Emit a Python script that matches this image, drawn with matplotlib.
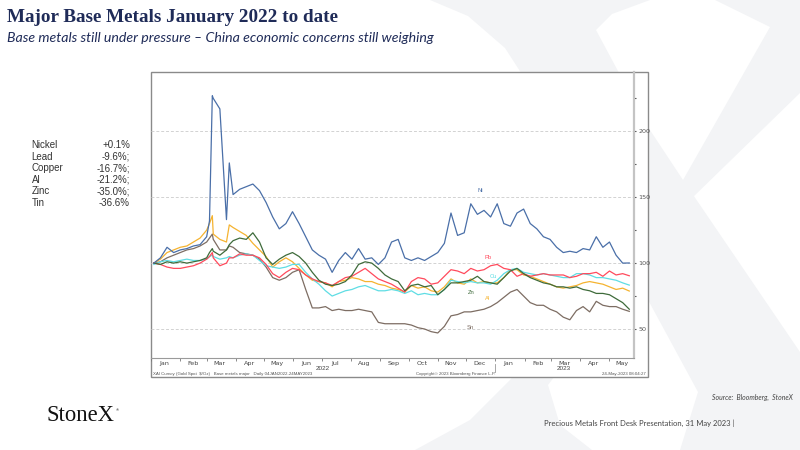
import matplotlib
matplotlib.use("Agg")
import matplotlib.pyplot as plt
import matplotlib.dates as mdates
from matplotlib.patches import Polygon, Rectangle
import pandas as pd

# weekly (Tuesday) closes, rebased Jan 2022 = 100, plus a few extra March 2022 days
weekly = pd.date_range("2022-01-04", "2023-05-23", freq="7D")
extra = pd.to_datetime(["2022-03-04", "2022-03-07", "2022-03-25"])
dates = weekly.append(extra).sort_values()

nickel = [100, 104, 112, 108, 110, 111, 113, 114,
          120, 132, 227, 225, 217, 133, 176, 152,
          156, 158, 160, 155, 146, 135, 126, 130, 139, 130,
          120, 110, 106, 103, 93, 102, 108, 103, 111, 103,
          104, 99, 104, 116, 118, 104, 102, 104, 102, 105,
          108, 115, 138, 121, 123, 145, 137, 140, 135, 145,
          130, 128, 138, 141, 130, 126, 120, 118, 112, 108,
          109, 108, 111, 110, 120, 112, 116, 106, 100, 100.1]
lead = [100, 99, 97, 96, 96, 97, 98, 100,
        103, 105, 108, 104, 98, 100, 104, 104,
        107, 106, 106, 104, 99, 92, 89, 93, 96, 95,
        91, 88, 86, 85, 83, 86, 89, 90, 93, 96,
        92, 88, 86, 84, 81, 78, 86, 89, 88, 84,
        85, 90, 95, 94, 92, 96, 94, 95, 98, 99,
        96, 95, 90, 92, 90, 91, 92, 91, 91, 91,
        89, 90, 92, 92, 93, 90, 94, 91, 92, 90.4]
copper = [99, 101, 102, 101, 102, 103, 102, 102,
          103, 105, 106, 105, 103, 104, 105, 104,
          106, 107, 106, 102, 98, 97, 96, 97, 99, 99,
          93, 88, 84, 79, 75, 77, 79, 80, 82, 83,
          81, 79, 79, 80, 79, 77, 79, 76, 77, 76,
          76, 80, 87, 86, 85, 86, 85, 85, 84, 87,
          92, 95, 96, 93, 92, 91, 92, 91, 90, 89,
          89, 92, 92, 91, 89, 89, 88, 87, 85, 83.3]
alu = [100, 103, 108, 110, 112, 113, 116, 119,
       125, 130, 136, 122, 118, 116, 129, 127,
       124, 121, 115, 110, 105, 97, 101, 104, 101, 96,
       91, 87, 86, 85, 82, 86, 87, 89, 88, 86,
       86, 84, 83, 81, 80, 78, 83, 81, 82, 79,
       78, 82, 88, 85, 84, 88, 85, 86, 85, 85,
       89, 95, 95, 91, 90, 88, 86, 84, 82, 81,
       82, 83, 85, 86, 85, 84, 82, 80, 81, 78.8]
zinc = [100, 99, 101, 100, 101, 100, 101, 102,
        104, 108, 111, 109, 106, 110, 114, 117,
        119, 118, 123, 116, 104, 99, 103, 106, 108, 105,
        100, 93, 87, 84, 83, 84, 86, 91, 99, 101,
        100, 96, 91, 88, 86, 79, 83, 84, 82, 83,
        76, 80, 85, 85, 86, 87, 90, 86, 85, 84,
        89, 94, 96, 92, 89, 87, 85, 84, 82, 82,
        81, 82, 80, 79, 77, 77, 76, 73, 70, 65]
tin = [100, 101, 104, 106, 108, 110, 111, 113,
       116, 119, 122, 118, 110, 110, 113, 112,
       108, 107, 106, 103, 97, 89, 87, 89, 93, 95,
       80, 66, 66, 67, 64, 65, 64, 64, 65, 64,
       63, 55, 54, 54, 54, 54, 53, 51, 50, 48,
       47, 52, 60, 61, 63, 63, 64, 65, 67, 70,
       74, 78, 80, 75, 70, 68, 68, 65, 63, 59,
       57, 64, 67, 63, 71, 68, 67, 67, 65, 63.4]

metal_names = ["Nickel", "Lead", "Copper", "Al", "Zinc", "Tin"]
metal_changes = ["+0.1%", "-9.6%;", "-16.7%;", "-21.2%;", "-35.0%;", "-36.6%"]

series = [
    ("Ni", nickel, "#4a6fa8", "2022-12-16", 155),
    ("Pb", lead, "#ff4a5c", "2022-12-24", 104.5),
    ("Cu", copper, "#5fdde4", "2022-12-30", 90),
    ("Al", alu, "#f5b330", "2022-12-24", 73.5),
    ("Zn", zinc, "#3f6b3b", "2022-12-07", 78),
    ("Sn", tin, "#7d6d63", "2022-12-05", 51.5),
]
draw_order = ["Sn", "Al", "Cu", "Pb", "Zn", "Ni"]

NAVY = "#1f2b58"
W, H = 800, 450

fig = plt.figure(figsize=(8, 4.5), dpi=100)
renderer = fig.canvas.get_renderer()


def fit_width(t, target):
    w = t.get_window_extent(renderer).width
    t.set_fontsize(t.get_fontsize() * target / w)


# page layer in pixel coordinates
bg = fig.add_axes([0, 0, 1, 1])
bg.set_xlim(0, W)
bg.set_ylim(H, 0)
bg.axis("off")

# faint StoneX "X" watermark
wm = "#f3f4f6"
bg.add_patch(Polygon([(430, 0), (650, 0), (612, 14), (596, 30), (648, 127), (683, 180),
                      (800, 352), (860, 450), (680, 450), (698, 392), (545, 110),
                      (505, 48), (468, 16)], closed=True, fc=wm, ec="none", zorder=0))
bg.add_patch(Polygon([(715, 0), (830, 0), (810, 40), (800, 93), (690, 200), (548, 385),
                      (560, 425), (592, 450), (415, 450), (470, 420), (510, 380),
                      (683, 180), (770, 27)], closed=True, fc=wm, ec="none", zorder=0))

# chart frame
bg.add_patch(Rectangle((151, 72), 497, 305, fc="white", ec="#8a8a8a", lw=1.0, zorder=1))

t = bg.text(7, 22.5, "Major Base Metals January 2022 to date", family="Liberation Serif",
            weight="bold", color=NAVY, fontsize=12.5, va="baseline", ha="left")
fit_width(t, 331)
t = bg.text(7, 41.5, "Base metals still under pressure \u2013 China economic concerns still weighing",
            family=["Lato", "DejaVu Sans"], style="italic", color=NAVY, fontsize=9,
            va="baseline", ha="left")
fit_width(t, 428)

for i, (name, chg) in enumerate(zip(metal_names, metal_changes)):
    y = 145 + 11.6 * i
    bg.text(31.5, y, name, family="Liberation Sans", fontsize=7, color="#333333", va="center")
    bg.text(130, y, chg, family="Liberation Sans", fontsize=7, color="#333333",
            va="center", ha="right")

# footer strip inside the chart frame
fs = dict(family="Liberation Sans", fontsize=3.2, color="#555555", va="center", zorder=3)
bg.text(153, 374, "XAI Curncy (Gold Spot  $/Oz)   Base metals major   Daily 04JAN2022-24MAY2023",
        ha="left", **fs)
bg.text(416, 374, "Copyright\u00a9 2023 Bloomberg Finance L.P.", ha="left", **fs)
bg.text(646, 374, "24-May-2023 08:04:27", ha="right", **fs)

t = bg.text(47, 421, "StoneX", family="Liberation Serif", fontsize=16, color="#111111",
            va="baseline", ha="left")
fit_width(t, 68)
bg.text(116, 410, "\u00ae", family="Liberation Sans", fontsize=3, color="#111111", va="center")
t = bg.text(793, 397, "Source:  Bloomberg,  StoneX", family=["Lato", "DejaVu Sans"],
            style="italic", fontsize=5.5, color="#444444", va="center", ha="right")
fit_width(t, 81)
t = bg.text(544, 423, "Precious Metals Front Desk Presentation, 31 May 2023 |",
            family=["Lato", "DejaVu Sans"], fontsize=6.5, color="#444444", va="center", ha="left")
fit_width(t, 189)

# the chart itself
ax = fig.add_axes([151 / W, 1 - 358 / H, (634 - 151) / W, (358 - 72) / H])
ax.set_facecolor("none")
by_key = {s[0]: s for s in series}
for key in draw_order:
    lab, vals, col, lx, ly = by_key[key]
    ax.plot(dates, vals, color=col, lw=0.9, zorder=3)
    ax.text(pd.Timestamp(lx), ly, lab, color=col, fontsize=4.2, ha="center", va="center",
            family="Liberation Sans")

ax.set_xlim(pd.Timestamp("2022-01-01"), pd.Timestamp("2023-05-28"))
ax.set_ylim(28, 245)

ax.yaxis.tick_right()
ax.set_yticks([50, 100, 150, 200])
ax.set_yticks([75, 125, 175, 225], minor=True)
ax.tick_params(axis="y", which="both", length=1.5, width=0.8, colors="#555555",
               labelsize=4.6, pad=1.5)
ax.tick_params(axis="y", which="minor", length=1.2)
ax.grid(axis="y", which="major", ls=(0, (3, 2)), color="#d2d2d2", lw=0.7, zorder=1)

ax.xaxis.set_major_locator(mdates.MonthLocator())
ax.xaxis.set_major_formatter(plt.NullFormatter())
ax.xaxis.set_minor_locator(mdates.MonthLocator(bymonthday=15))
ax.xaxis.set_minor_formatter(mdates.DateFormatter("%b"))
ax.tick_params(axis="x", which="major", length=2, width=0.6, color="#777777")
ax.tick_params(axis="x", which="minor", length=0, labelsize=4.6, labelcolor="#444444", pad=2)

xt = ax.get_xaxis_transform()
for yr, mid in [("2022", "2022-07-02"), ("2023", "2023-03-15")]:
    ax.text(pd.Timestamp(mid), -0.036, yr, transform=xt, fontsize=4.6, color="#444444",
            ha="center", va="center", family="Liberation Sans")
ax.plot([pd.Timestamp("2023-01-01")] * 2, [-0.022, -0.048], transform=xt, color="#999999",
        lw=0.6, clip_on=False)

for side in ["left", "top"]:
    ax.spines[side].set_visible(False)
ax.spines["right"].set_color("#c4c4c4")
ax.spines["right"].set_linewidth(1.6)
ax.spines["bottom"].set_color("#9a9a9a")
ax.spines["bottom"].set_linewidth(0.8)

fig.savefig("out.png", dpi=100)
